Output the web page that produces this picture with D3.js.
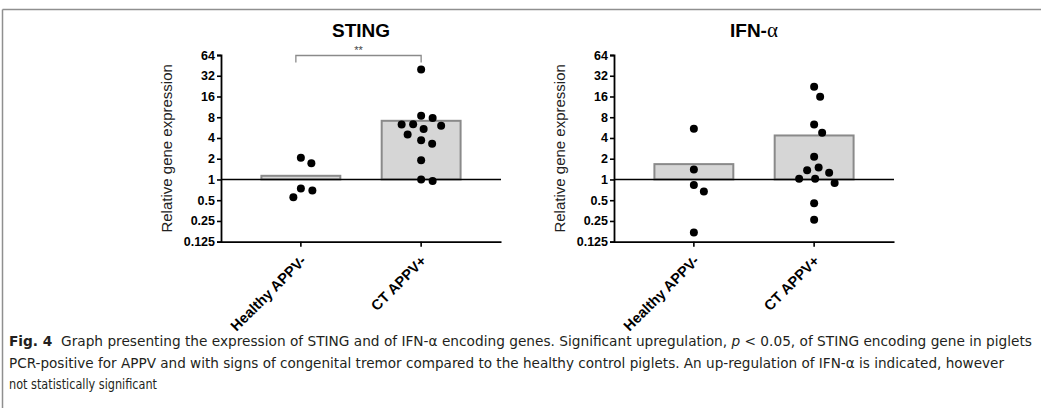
<!DOCTYPE html>
<html><head><meta charset="utf-8">
<script src="https://cdn.jsdelivr.net/npm/d3@7"></script>
<style>
html,body{margin:0;padding:0;background:#fff;}
svg{display:block;}
</style></head>
<body>
<svg id="fig" width="1041" height="408"></svg>
<script>
// ---------- data ----------
const categories = ["Healthy APPV-", "CT APPV+"];
const yTicks = [0.125, 0.25, 0.5, 1, 2, 4, 8, 16, 32, 64];

const stingHealthy = [2.06, 1.72, 0.74, 0.69, 0.55];
const stingCT = [39.5, 8.4, 7.8, 6.35, 6.3, 6.0, 5.4, 4.5, 3.7, 3.3, 1.9, 1.0, 0.95];
const stingMeans = [1.13, 7.1];

const ifnHealthy = [5.43, 1.40, 0.83, 0.67, 0.17];
const ifnCT = [22.1, 15.8, 6.3, 4.75, 2.13, 1.49, 1.36, 1.25, 1.02, 1.02, 0.89, 0.45, 0.26];
const ifnMeans = [1.67, 4.35];

const captionLines = [
  [{t:"Fig. 4", b:true}, {t:"  Graph presenting the expression of STING and of IFN-α encoding genes. Significant upregulation, "}, {t:"p", i:true}, {t:" < 0.05, of STING encoding gene in piglets"}],
  [{t:"PCR-positive for APPV and with signs of congenital tremor compared to the healthy control piglets. An up-regulation of IFN-α is indicated, however"}],
  [{t:"not statistically significant"}]
];

// ---------- drawing ----------
const svg = d3.select("#fig");
const FONT = "'Liberation Sans', Arial, Helvetica, sans-serif";

// frame
svg.append("line").attr("x1", 2.5).attr("x2", 1041).attr("y1", 9.5).attr("y2", 9.5)
  .attr("stroke", "#8f8f8f").attr("stroke-width", 1.5);
svg.append("line").attr("x1", 2.5).attr("x2", 2.5).attr("y1", 9.5).attr("y2", 408)
  .attr("stroke", "#8f8f8f").attr("stroke-width", 1.5);

const yTop = 55, yBot = 241.7;
const y = d3.scaleLog().base(2).domain([0.125, 64]).range([yBot, yTop]);
const fmt = d => String(d);

function beeswarm(values, cx, dist) {
  const placed = [];
  const order = values.map((v, i) => i).sort((a, b) => values[b] - values[a]);
  const out = new Array(values.length);
  order.forEach(i => {
    const py = y(values[i]);
    let best = cx;
    for (let k = 0; k < 400; k++) {
      const step = Math.ceil(k / 2) * 0.5 * (k % 2 === 1 ? 1 : -1);
      const px = cx + step;
      if (placed.every(p => Math.hypot(p.x - px, p.y - py) >= dist)) { best = px; break; }
    }
    placed.push({x: best, y: py});
    out[i] = {x: best, y: py, v: values[i]};
  });
  return out;
}

function panel(opts) {
  const {x0, x1, title, titleAlpha, groups, means, sig} = opts;
  const g = svg.append("g");
  const x = d3.scaleBand().domain(categories).range([x0, x1])
    .paddingInner(0.344).paddingOuter(0.336);
  const cx = d => x(d) + x.bandwidth() / 2;

  // bars (from 1)
  g.selectAll("rect.bar").data(categories).join("rect")
    .attr("x", d => x(d)).attr("width", x.bandwidth())
    .attr("y", (d, i) => y(means[i])).attr("height", (d, i) => y(1) - y(means[i]))
    .attr("fill", "#d6d6d6").attr("stroke", "#8a8a8a").attr("stroke-width", 2);

  // baseline at 1
  g.append("line").attr("x1", x0).attr("x2", x1).attr("y1", y(1)).attr("y2", y(1))
    .attr("stroke", "#000").attr("stroke-width", 1.6);

  // points
  categories.forEach((c, i) => {
    const pts = beeswarm(groups[i], cx(c), 11.5);
    g.selectAll(null).data(pts).join("circle")
      .attr("cx", d => d.x).attr("cy", d => d.y).attr("r", 4).attr("fill", "#000");
  });

  // y axis
  const ya = g.append("g").attr("transform", `translate(${x0},0)`)
    .call(d3.axisLeft(y).tickValues(yTicks).tickFormat(fmt).tickSize(4).tickPadding(2));
  ya.select(".domain").attr("stroke-width", 1.8);
  ya.selectAll(".tick line").attr("stroke-width", 1.6);
  ya.selectAll(".tick text").attr("font-family", FONT).attr("font-weight", "bold")
    .attr("font-size", 12.5).attr("fill", "#000");

  // x axis
  const xa = g.append("g").attr("transform", `translate(0,${yBot})`)
    .call(d3.axisBottom(x).tickSize(5).tickSizeOuter(0).tickFormat(""));
  xa.select(".domain").attr("stroke-width", 1.8);
  xa.selectAll(".tick line").attr("stroke-width", 1.6);

  // category labels
  g.selectAll("text.cat").data(categories).join("text")
    .attr("transform", d => `translate(${cx(d) + 6},${yBot + 20}) rotate(-45)`)
    .attr("text-anchor", "end").attr("font-family", FONT).attr("font-weight", "bold")
    .attr("font-size", 14.5).attr("fill", "#000").text(d => d);

  // y label
  g.append("text")
    .attr("transform", `translate(${x0 - 49},${(yTop + yBot) / 2}) rotate(-90)`)
    .attr("text-anchor", "middle").attr("font-family", FONT).attr("font-size", 15)
    .attr("fill", "#222").text("Relative gene expression");

  // title
  const t = g.append("text").attr("x", (x0 + x1) / 2).attr("y", 37)
    .attr("text-anchor", "middle").attr("font-family", FONT).attr("font-weight", "bold")
    .attr("font-size", 19).attr("fill", "#000");
  t.append("tspan").text(title);
  if (titleAlpha) t.append("tspan").attr("font-family", "'Liberation Serif', 'Times New Roman', serif")
    .attr("font-weight", "normal").attr("font-size", 21).text(titleAlpha);

  // significance bracket
  if (sig) {
    const a = cx(categories[0]) - 5, b = cx(categories[1]);
    g.append("path").attr("d", `M${a},62.5V55.5H${b}V62.5`)
      .attr("fill", "none").attr("stroke", "#8a8a8a").attr("stroke-width", 1.3);
    g.append("text").attr("x", (a + b) / 2).attr("y", 53.5).attr("text-anchor", "middle")
      .attr("font-family", FONT).attr("font-size", 11).attr("fill", "#444").text(sig);
  }
}

panel({x0: 221, x1: 501, title: "STING", groups: [stingHealthy, stingCT], means: stingMeans, sig: "**"});
panel({x0: 614, x1: 894, title: "IFN-", titleAlpha: "α", groups: [ifnHealthy, ifnCT], means: ifnMeans});

// caption
const capWidths = [1023, 995, 148];
const capY = [346, 367.5, 389];
captionLines.forEach((line, li) => {
  const t = svg.append("text").attr("x", 9).attr("y", capY[li])
    .attr("font-family", "'DejaVu Sans Condensed', 'Liberation Sans Narrow', 'Open Sans', sans-serif")
    .attr("font-stretch", "condensed")
    .attr("font-size", 14).attr("fill", "#231f20")
    .attr("textLength", capWidths[li]).attr("lengthAdjust", "spacingAndGlyphs")
    .attr("xml:space", "preserve").style("white-space", "pre");
  line.forEach(s => {
    const ts = t.append("tspan").text(s.t);
    if (s.b) ts.attr("font-weight", "bold");
    if (s.i) ts.attr("font-style", "italic");
  });
});
</script>
</body></html>
